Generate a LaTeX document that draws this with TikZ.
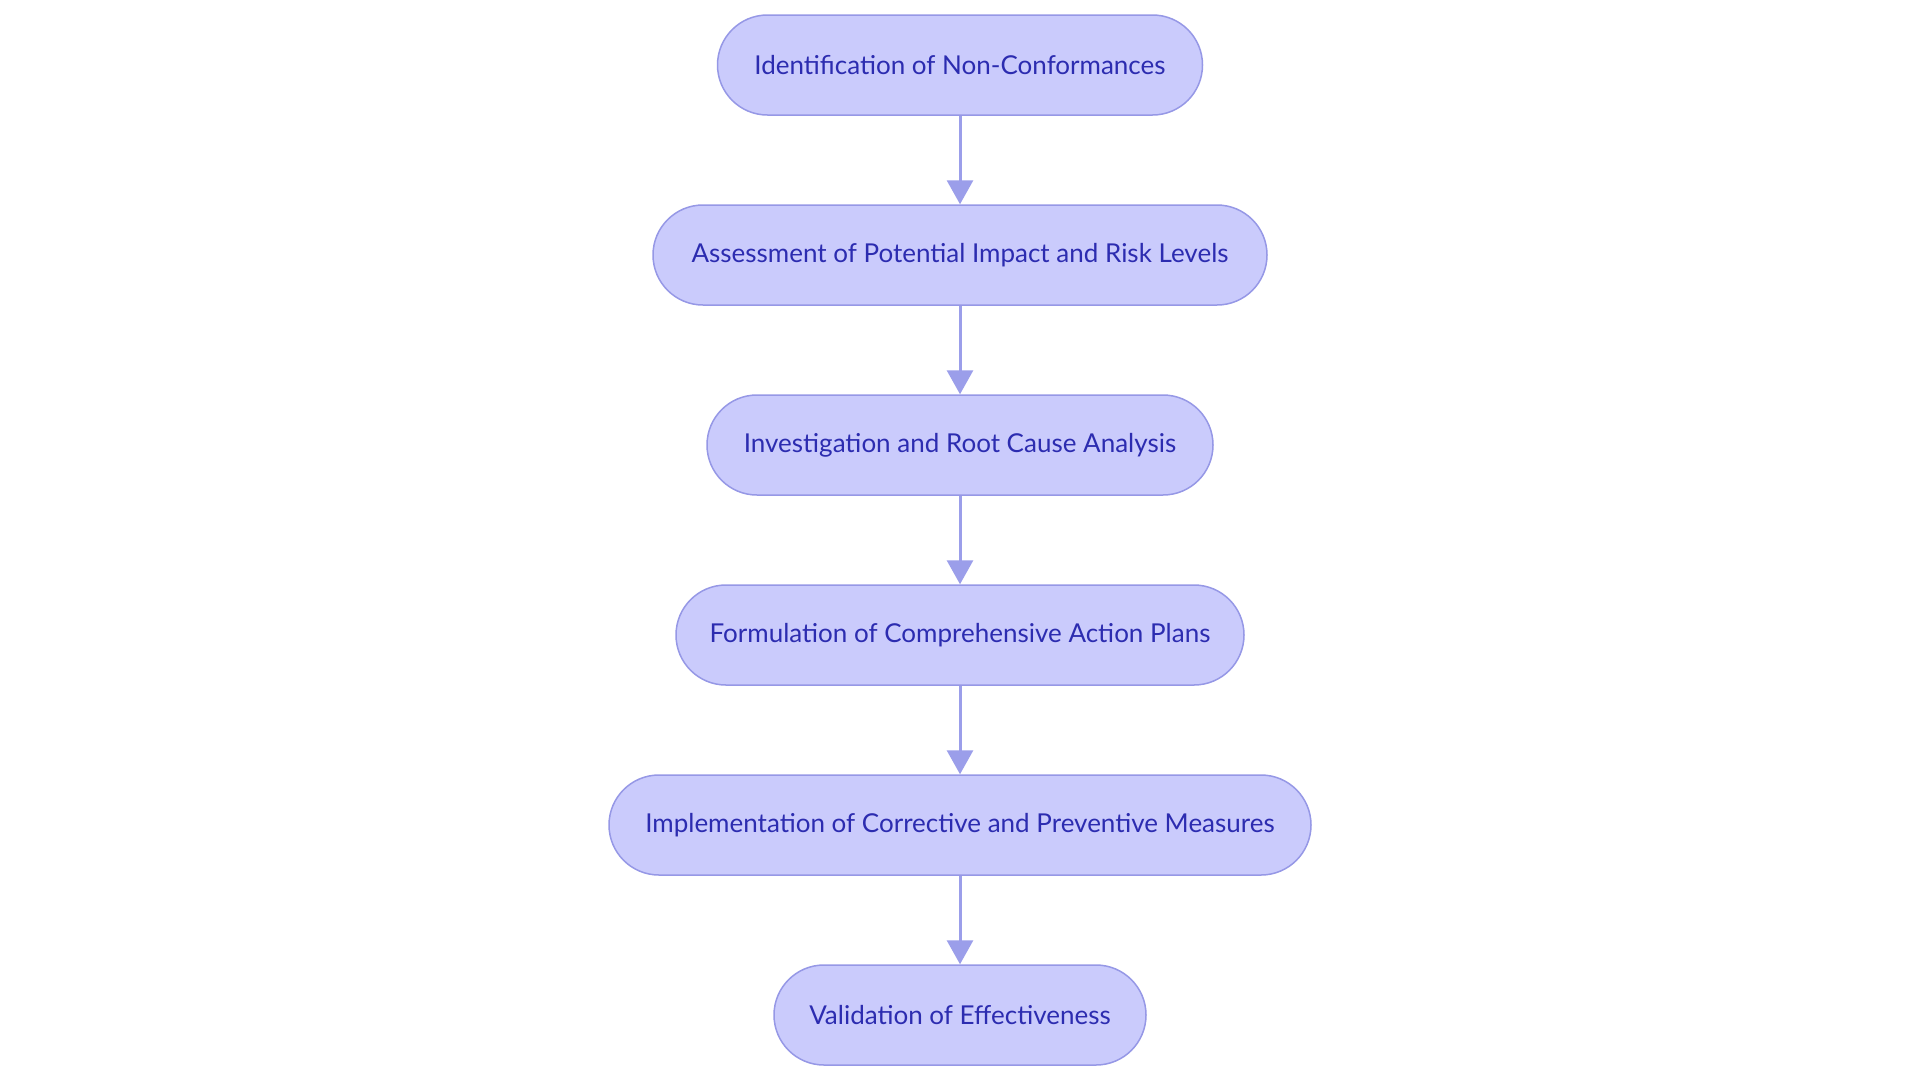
\documentclass[tikz,border=0pt]{standalone}
\usepackage{fontspec}
\setmainfont{Lato}
\usetikzlibrary{arrows.meta}
\definecolor{boxfill}{RGB}{202,203,252}
\definecolor{boxline}{RGB}{150,152,230}
\definecolor{boxtext}{RGB}{44,44,176}
\definecolor{arrowc}{RGB}{155,158,234}
\tikzset{
  stepbox/.style={draw=boxline, line width=1.5pt, fill=boxfill, rounded corners=50pt,
    minimum height=100pt, inner sep=0pt, text=boxtext, font=\fontsize{26}{30}\selectfont},
  flowarrow/.style={draw=arrowc, line width=3pt, -{Triangle[width=26pt,length=24pt]}, shorten >=0pt}
}
\begin{document}
\begin{tikzpicture}[x=1pt,y=-1pt]
\useasboundingbox (0,0) rectangle (1920,1080);
\fill[white] (0,0) rectangle (1920,1080);
\node[stepbox, minimum width=485pt] (n1) at (960,65) {Identification of Non-Conformances};
\node[stepbox, minimum width=614pt] (n2) at (960,255) {Assessment of Potential Impact and Risk Levels};
\node[stepbox, minimum width=506pt] (n3) at (960,445) {Investigation and Root Cause Analysis};
\node[stepbox, minimum width=568pt] (n4) at (960,635) {Formulation of Comprehensive Action Plans};
\node[stepbox, minimum width=702pt] (n5) at (960,825) {Implementation of Corrective and Preventive Measures};
\node[stepbox, minimum width=372pt] (n6) at (960,1015) {Validation of Effectiveness};
\draw[flowarrow] (n1) -- (n2);
\draw[flowarrow] (n2) -- (n3);
\draw[flowarrow] (n3) -- (n4);
\draw[flowarrow] (n4) -- (n5);
\draw[flowarrow] (n5) -- (n6);
\end{tikzpicture}
\end{document}
